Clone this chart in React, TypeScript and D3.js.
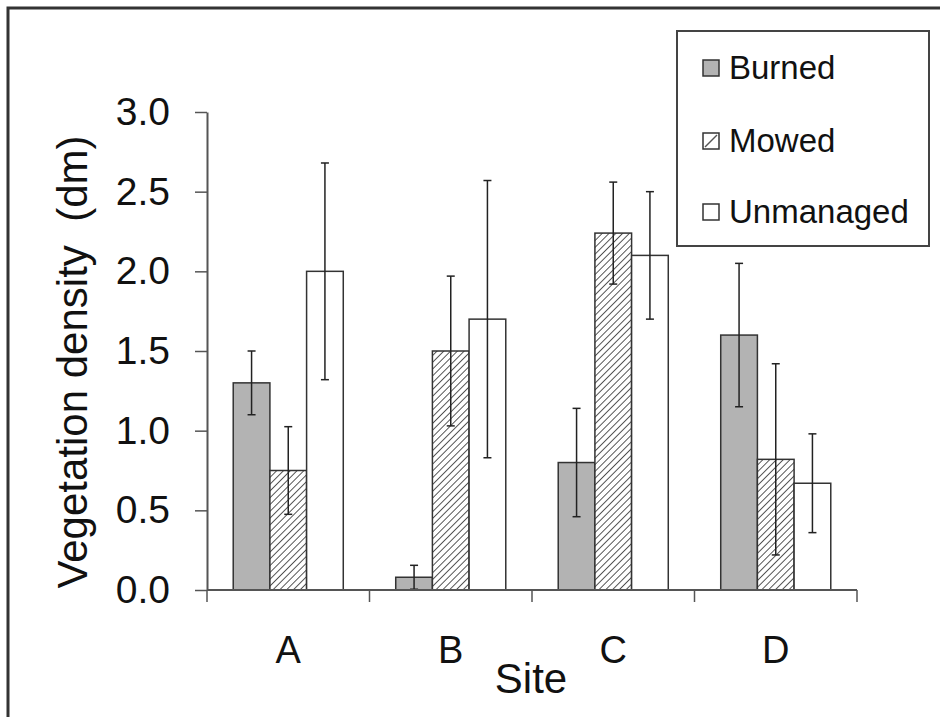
import * as d3 from 'd3';
import React, { useRef, useEffect } from 'react';

// data
const sites = ['A', 'B', 'C', 'D'];
const treatments = ['Burned', 'Mowed', 'Unmanaged'];
const burned = [1.3, 0.08, 0.8, 1.6];
const mowed = [0.75, 1.5, 2.24, 0.82];
const unmanaged = [2.0, 1.7, 2.1, 0.67];
const burnedErr = [0.2, 0.075, 0.34, 0.45];
const mowedErr = [0.275, 0.47, 0.32, 0.6];
const unmanagedErr = [0.68, 0.87, 0.4, 0.31];
const yTicks = [0, 0.5, 1.0, 1.5, 2.0, 2.5, 3.0];

const width = 940;
const height = 717;
const font = '"Liberation Sans", Arial, sans-serif';

function App() {
  const ref = useRef<SVGSVGElement>(null);

  useEffect(() => {
    const svg = d3.select(ref.current);
    svg.selectAll('*').remove();

    const values = [burned, mowed, unmanaged];
    const errs = [burnedErr, mowedErr, unmanagedErr];

    const x0 = d3.scaleBand().domain(sites).range([207, 857]).padding(0);
    const x1 = d3.scaleBand().domain(treatments).range([0, x0.bandwidth()]).paddingOuter(0.715).paddingInner(0);
    const y = d3.scaleLinear().domain([0, 3]).range([590, 112]);

    // hatch pattern
    const defs = svg.append('defs');
    const pat = defs.append('pattern')
      .attr('id', 'hatch')
      .attr('patternUnits', 'userSpaceOnUse')
      .attr('width', 4.8)
      .attr('height', 4.8)
      .attr('patternTransform', 'rotate(45)');
    pat.append('rect').attr('width', 4.8).attr('height', 4.8).attr('fill', 'white');
    pat.append('line')
      .attr('x1', 0).attr('y1', 0).attr('x2', 0).attr('y2', 4.8)
      .attr('stroke', '#444').attr('stroke-width', 1.8);

    const fills = ['#b3b3b3', 'url(#hatch)', 'white'];

    // frame (only top/left visible)
    svg.append('rect')
      .attr('x', 8).attr('y', 8).attr('width', 1000).attr('height', 1000)
      .attr('fill', 'none').attr('stroke', '#333').attr('stroke-width', 3);

    // bars
    treatments.forEach((t, ti) => {
      const g = svg.append('g');
      g.selectAll('rect')
        .data(sites).enter()
        .append('rect')
        .attr('x', (d) => x0(d)! + x1(t)!)
        .attr('y', (d, i) => y(values[ti][i]))
        .attr('width', x1.bandwidth())
        .attr('height', (d, i) => y(0) - y(values[ti][i]))
        .attr('fill', fills[ti])
        .attr('stroke', '#333')
        .attr('stroke-width', 1.5);
    });

    // error bars
    treatments.forEach((t, ti) => {
      sites.forEach((s, i) => {
        const cx = x0(s)! + x1(t)! + x1.bandwidth() / 2;
        const v = values[ti][i];
        const e = errs[ti][i];
        const g = svg.append('g').attr('stroke', '#222').attr('stroke-width', 1.5);
        g.append('line').attr('x1', cx).attr('x2', cx).attr('y1', y(v - e)).attr('y2', y(v + e));
        g.append('line').attr('x1', cx - 4).attr('x2', cx + 4).attr('y1', y(v - e)).attr('y2', y(v - e));
        g.append('line').attr('x1', cx - 4).attr('x2', cx + 4).attr('y1', y(v + e)).attr('y2', y(v + e));
      });
    });

    // y axis
    const yAxis = d3.axisLeft(y)
      .tickValues(yTicks)
      .tickFormat(d3.format('.1f'))
      .tickSize(12)
      .tickPadding(25)
      .tickSizeOuter(0);
    const ya = svg.append('g').attr('transform', 'translate(207,0)').call(yAxis);
    ya.select('.domain').attr('stroke', '#555').attr('stroke-width', 2);
    ya.selectAll('.tick line').attr('stroke', '#555').attr('stroke-width', 1.5);
    ya.selectAll('.tick text')
      .attr('font-family', font).attr('font-size', 39).attr('fill', '#111');

    // x axis
    const xa = svg.append('g');
    xa.append('line')
      .attr('x1', 207).attr('x2', 857).attr('y1', y(0)).attr('y2', y(0))
      .attr('stroke', '#555').attr('stroke-width', 2);
    xa.selectAll('.xt')
      .data([...sites.map((s) => x0(s)!), 857]).enter()
      .append('line')
      .attr('x1', (d) => d).attr('x2', (d) => d)
      .attr('y1', y(0)).attr('y2', y(0) + 12)
      .attr('stroke', '#555').attr('stroke-width', 1.5);
    xa.selectAll('.xl')
      .data(sites).enter()
      .append('text')
      .attr('x', (d) => x0(d)! + x0.bandwidth() / 2)
      .attr('y', 663)
      .attr('text-anchor', 'middle')
      .attr('font-family', font).attr('font-size', 38).attr('fill', '#111')
      .text((d) => d);

    // axis titles
    svg.append('text')
      .attr('x', 531).attr('y', 693)
      .attr('text-anchor', 'middle')
      .attr('font-family', font).attr('font-size', 42).attr('fill', '#111')
      .text('Site');
    svg.append('text')
      .attr('transform', 'translate(87,362) rotate(-90)')
      .attr('text-anchor', 'middle')
      .attr('font-family', font).attr('font-size', 42).attr('fill', '#111')
      .style('white-space', 'pre')
      .text('Vegetation density  (dm)');

    // legend
    const lg = svg.append('g');
    lg.append('rect')
      .attr('x', 677).attr('y', 31).attr('width', 252).attr('height', 215)
      .attr('fill', 'white').attr('stroke', '#444').attr('stroke-width', 2);
    const rowY = [68, 141, 212];
    treatments.forEach((t, i) => {
      lg.append('rect')
        .attr('x', 703).attr('y', rowY[i] - 8).attr('width', 16).attr('height', 16)
        .attr('fill', i === 1 ? 'white' : fills[i])
        .attr('stroke', '#333').attr('stroke-width', 1.5);
      if (i === 1) {
        lg.append('line')
          .attr('x1', 705).attr('y1', rowY[i] + 6).attr('x2', 717).attr('y2', rowY[i] - 6)
          .attr('stroke', '#555').attr('stroke-width', 1.5);
      }
      lg.append('text')
        .attr('x', 729).attr('y', rowY[i] + 11)
        .attr('font-family', font).attr('font-size', 33).attr('fill', '#111')
        .text(t);
    });
  }, []);

  return (
    <svg ref={ref} width={width} height={height}
      style={{ position: 'absolute', left: 0, top: 0, background: 'white' }} />
  );
}

export default App;
